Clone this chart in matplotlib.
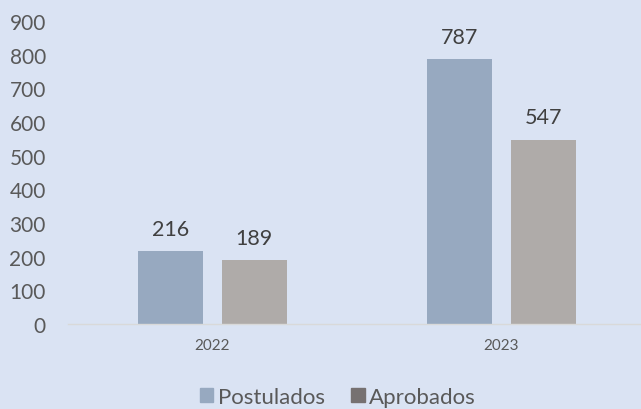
import matplotlib
matplotlib.use("Agg")
import matplotlib.pyplot as plt
import numpy as np
from matplotlib.patches import Patch

categories = ["2022", "2023"]
postulados = [216, 787]
aprobados = [189, 547]
yticks = [0, 100, 200, 300, 400, 500, 600, 700, 800, 900]

bg = "#DAE3F3"
c_post = "#97A9C0"
c_apro = "#AFABA9"
c_apro_leg = "#767171"
txt = "#404040"

plt.rcParams['font.family'] = ['Lato', 'DejaVu Sans']

fig = plt.figure(figsize=(6.41, 4.10), dpi=100, facecolor=bg)
ax = fig.add_axes([68/641, 1-325/410, 578/641, (325-22)/410], facecolor=bg)

x = np.arange(len(categories))
w = 0.225
off = 0.144
b1 = ax.bar(x - off, postulados, w, color=c_post)
b2 = ax.bar(x + off, aprobados, w, color=c_apro)
for bars, vals in ((b1, postulados), (b2, aprobados)):
    for r, v in zip(bars, vals):
        ax.annotate(str(v), (r.get_x() + r.get_width()/2, v), xytext=(0, 9),
                    textcoords="offset points", ha="center", va="bottom",
                    fontsize=15.5, color=txt)

ax.set_xlim(-0.5, 1.5)
ax.set_ylim(0, 900)
ax.set_yticks(yticks)
ax.set_yticklabels([str(t) for t in yticks], fontsize=15, color="#595959")
ax.set_xticks(x)
ax.set_xticklabels(categories, fontsize=11, color="#595959")
ax.tick_params(axis="y", length=0, pad=16)
ax.tick_params(axis="x", length=0, pad=10)
for s in ("top", "right", "left"):
    ax.spines[s].set_visible(False)
ax.spines["bottom"].set_color("#D9D9D9")
ax.spines["bottom"].set_linewidth(1)

handles = [Patch(color=c_post, label="Postulados"), Patch(color=c_apro_leg, label="Aprobados")]
fig.legend(handles=handles, loc="center", bbox_to_anchor=(338/641, 1-398/410), ncol=2,
           frameon=False, fontsize=16, handlelength=0.6, handleheight=0.6,
           handletextpad=0.2, columnspacing=1.2, labelcolor="#595959")

fig.savefig("out.png", dpi=100, facecolor=bg)
